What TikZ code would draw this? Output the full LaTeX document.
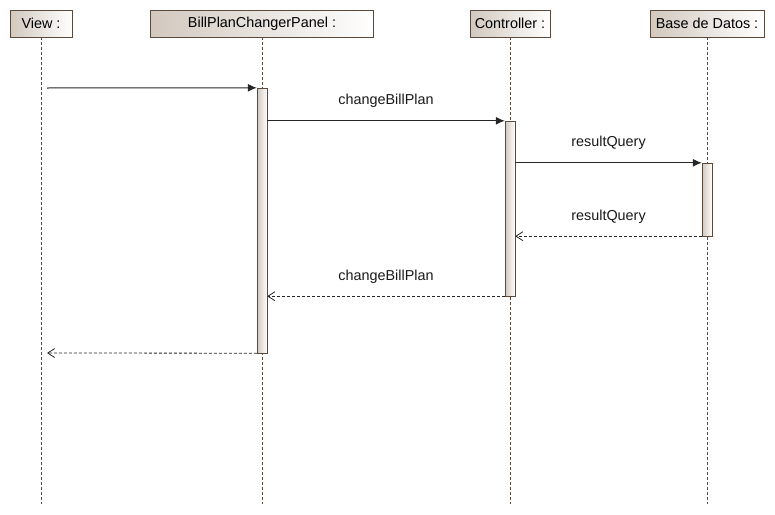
\documentclass[tikz,border=0pt]{standalone}
\usepackage{fontspec}
\setmainfont{Liberation Sans}
\usetikzlibrary{arrows.meta,positioning}
\definecolor{umlline}{HTML}{5A4A3E}
\definecolor{umlfill}{HTML}{D2C8BE}

\begin{document}
\begin{tikzpicture}[x=1pt, y=-1pt, font=\fontsize{14.4}{16}\selectfont,
    head/.style={draw=umlline, left color=umlfill, right color=white, minimum height=27pt, inner sep=2pt},
    lifeline/.style={draw=umlline, dash pattern=on 3pt off 2pt},
    act/.style={draw=umlline, left color=umlfill, right color=white, minimum width=10pt, inner sep=0pt},
    call/.style={draw=black!85, line width=1pt, -{Latex[length=9pt,width=8pt]}},
    reply/.style={draw=black!85, line width=0.8pt, dash pattern=on 3pt off 2pt, -{Straight Barb[length=7pt,width=9pt]}},
    msg/.style={midway, above=9pt, text=black!90}]
    \useasboundingbox (0,0) rectangle (775,514);

    % heads
    \node[head, minimum width=62pt] (view) at (41,23.5) {View :};
    \node[head, minimum width=223pt] (panel) at (262,23.5) {BillPlanChangerPanel :};
    \node[head, minimum width=80pt] (ctrl) at (510,23.5) {Controller :};
    \node[head, minimum width=114pt] (db) at (707,23.5) {Base de Datos :};

    % lifelines
    \coordinate (viewend) at (41,504);
    \coordinate (panelend) at (262,504);
    \coordinate (ctrlend) at (510,504);
    \coordinate (dbend) at (707,504);
    \draw[lifeline] (view.south) -- (viewend);
    \draw[lifeline] (panel.south) -- (panelend);
    \draw[lifeline] (ctrl.south) -- (ctrlend);
    \draw[lifeline] (db.south) -- (dbend);

    % activations
    \node[act, minimum height=265pt] (actpanel) at (262,220.5) {};
    \node[act, minimum height=175pt] (actctrl) at (510,208.5) {};
    \node[act, minimum height=73pt] (actdb) at (707,199.5) {};

    % messages
    \coordinate (start) at (47,88);
    \coordinate (back) at (47,353);
    \draw[call] (start) -- (actpanel.north west);
    \draw[call] (actpanel.east |- actctrl.north) -- node[msg] {changeBillPlan} (actctrl.north west);
    \draw[call] (actctrl.east |- actdb.north) -- node[msg] {resultQuery} (actdb.north west);
    \draw[reply] (actdb.south west) -- node[msg] {resultQuery} (actctrl.east |- actdb.south);
    \draw[reply] (actctrl.south west) -- node[msg] {changeBillPlan} (actpanel.east |- actctrl.south);
    \draw[reply] (actpanel.south west) -- (back);
\end{tikzpicture}
\end{document}
